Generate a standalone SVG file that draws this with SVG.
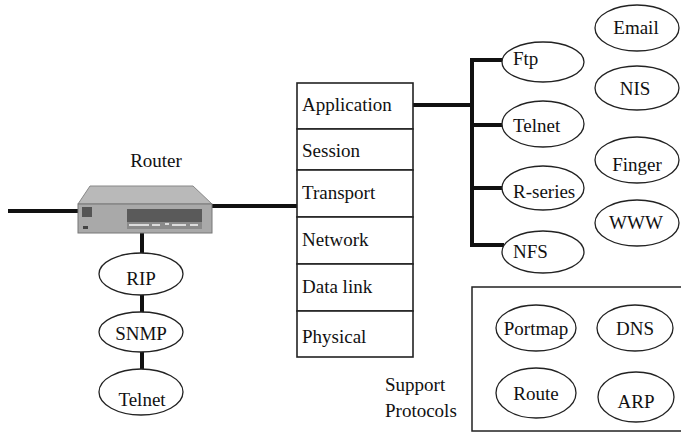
<svg xmlns="http://www.w3.org/2000/svg" width="681" height="433" viewBox="0 0 681 433">
  <style>
    .t { font-family: "Liberation Serif", "Times New Roman", serif; font-size: 19px; fill: #111; }
    .c { text-anchor: middle; }
    .ell { fill: #fff; stroke: #222; stroke-width: 1.3; }
    .bus { fill: none; stroke: #111; stroke-width: 4; stroke-linecap: square; }
    .layer { fill: #fff; stroke: #222; stroke-width: 1.6; }
  </style>
  <rect width="681" height="433" fill="#fff"/>

  <!-- connectors -->
  <g id="connectors">
    <path class="bus" d="M10,211 H84"/>
    <path class="bus" d="M212,206 H297"/>
    <path class="bus" d="M142,234 V253 M142,295 V312 M142,352 V369"/>
    <path class="bus" d="M414,105 H472"/>
    <path class="bus" d="M472,60 V245"/>
    <path class="bus" d="M472,60 H502 M472,125 H502 M472,188 H502 M472,245 H502"/>
  </g>

  <!-- router -->
  <g id="router">
    <text class="t c" x="156" y="167">Router</text>
    <polygon points="90,186 193,186 212,204 78,204" fill="#b9b9b9" stroke="#888" stroke-width="1"/>
    <rect x="78" y="204" width="134" height="29" fill="#a9a9a9" stroke="#777" stroke-width="1"/>
    <rect x="82" y="207" width="10" height="10" fill="#555"/>
    <rect x="83" y="226" width="5" height="3" fill="#444"/>
    <rect x="127" y="209" width="75" height="13" fill="#5a5a5a"/>
    <rect x="127" y="222" width="75" height="7" fill="#8a8a8a"/>
    <path d="M129,225 h20 M152,225 h8 M165,224 h4 M172,225 h14 M190,225 h8" stroke="#dcdcdc" stroke-width="2"/>
  </g>

  <!-- router protocols -->
  <g id="rip"><ellipse class="ell" cx="141" cy="274" rx="42" ry="21"/><text class="t c" x="141" y="285">RIP</text></g>
  <g id="snmp"><ellipse class="ell" cx="141" cy="332" rx="42" ry="20"/><text class="t c" x="141" y="340">SNMP</text></g>
  <g id="telnet-router"><ellipse class="ell" cx="141" cy="392" rx="42" ry="23"/><text class="t c" x="142" y="406">Telnet</text></g>

  <!-- OSI stack -->
  <g id="stack">
    <rect class="layer" x="297" y="83" width="116" height="46"/>
    <rect class="layer" x="297" y="129" width="116" height="41"/>
    <rect class="layer" x="297" y="170" width="116" height="47"/>
    <rect class="layer" x="297" y="217" width="116" height="47"/>
    <rect class="layer" x="297" y="264" width="116" height="47"/>
    <rect class="layer" x="297" y="311" width="116" height="46"/>
    <text class="t" x="302" y="111">Application</text>
    <text class="t" x="302" y="157">Session</text>
    <text class="t" x="302" y="199">Transport</text>
    <text class="t" x="302" y="246">Network</text>
    <text class="t" x="302" y="293">Data link</text>
    <text class="t" x="302" y="343">Physical</text>
  </g>

  <!-- application services -->
  <g id="ftp"><ellipse class="ell" cx="543" cy="62" rx="41" ry="20"/><text class="t" x="513" y="65">Ftp</text></g>
  <g id="telnet"><ellipse class="ell" cx="543" cy="124" rx="41" ry="23"/><text class="t" x="513" y="132">Telnet</text></g>
  <g id="rseries"><ellipse class="ell" cx="543" cy="188" rx="41" ry="22"/><text class="t" x="513" y="198">R-series</text></g>
  <g id="nfs"><ellipse class="ell" cx="543" cy="252" rx="41" ry="21"/><text class="t" x="513" y="258">NFS</text></g>

  <g id="email"><ellipse class="ell" cx="637" cy="28" rx="42" ry="23"/><text class="t c" x="636" y="34">Email</text></g>
  <g id="nis"><ellipse class="ell" cx="637" cy="88" rx="42" ry="22"/><text class="t c" x="635" y="95">NIS</text></g>
  <g id="finger"><ellipse class="ell" cx="637" cy="160" rx="42" ry="23"/><text class="t c" x="637" y="171">Finger</text></g>
  <g id="www"><ellipse class="ell" cx="637" cy="223" rx="42" ry="23"/><text class="t c" x="636" y="229">WWW</text></g>

  <!-- support protocols -->
  <g id="support">
    <rect x="472" y="287" width="215" height="144" fill="none" stroke="#222" stroke-width="1.5"/>
    <text class="t" x="385" y="391">Support</text>
    <text class="t" x="385" y="417">Protocols</text>
  </g>
  <g id="portmap"><ellipse class="ell" cx="536" cy="328" rx="40" ry="23"/><text class="t c" x="536" y="335">Portmap</text></g>
  <g id="dns"><ellipse class="ell" cx="635" cy="328" rx="38" ry="23"/><text class="t c" x="635" y="335">DNS</text></g>
  <g id="route"><ellipse class="ell" cx="536" cy="393" rx="40" ry="25"/><text class="t c" x="536" y="400">Route</text></g>
  <g id="arp"><ellipse class="ell" cx="636" cy="397" rx="38" ry="25"/><text class="t c" x="636" y="408">ARP</text></g>
</svg>
